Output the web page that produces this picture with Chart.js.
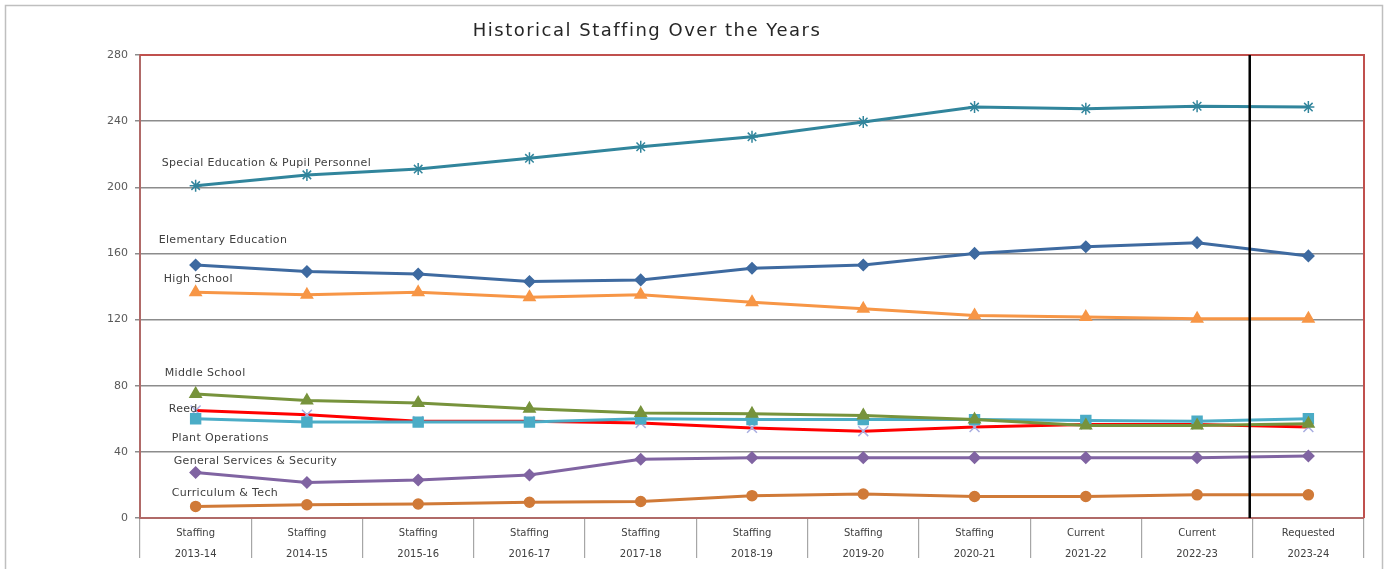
<!DOCTYPE html>
<html>
<head>
<meta charset="utf-8">
<script src="https://cdn.jsdelivr.net/npm/chart.js@4/dist/chart.umd.min.js"></script>
<style>
  html, body { margin: 0; padding: 0; background: #fff; }
  #wrap { position: relative; width: 1389px; height: 569px; }
</style>
</head>
<body>
<div id="wrap"><canvas id="staffing"></canvas></div>
<script>
const periods = [
  ['Staffing', '2013-14'], ['Staffing', '2014-15'], ['Staffing', '2015-16'],
  ['Staffing', '2016-17'], ['Staffing', '2017-18'], ['Staffing', '2018-19'],
  ['Staffing', '2019-20'], ['Staffing', '2020-21'], ['Current', '2021-22'],
  ['Current', '2022-23'], ['Requested', '2023-24']
];

const specialEd   = [201, 207.5, 211, 217.5, 224.5, 230.5, 239.5, 248.5, 247.5, 249, 248.5];
const elementary  = [153, 149, 147.5, 143, 144, 151, 153, 160, 164, 166.5, 158.5];
const highSchool  = [136.5, 135, 136.5, 133.5, 135, 130.5, 126.5, 122.5, 121.5, 120.5, 120.5];
const middle      = [75, 71, 69.5, 66, 63.5, 63, 62, 59.5, 56, 56, 57];
const reed        = [65, 62.5, 58.5, 58.5, 57.5, 54.5, 52.5, 55, 56.5, 56.5, 55];
const plantOps    = [60, 58, 58, 58, 60, 59.5, 59.5, 59.5, 59, 58.5, 60];
const genServices = [27.5, 21.5, 23, 26, 35.5, 36.5, 36.5, 36.5, 36.5, 36.5, 37.5];
const curriculum  = [7, 8, 8.5, 9.5, 10, 13.5, 14.5, 13, 13, 14, 14];

const yTicks = [0, 40, 80, 120, 160, 200, 240, 280];

// name labels sit next to each series' first point (offset in px)
const labelNudge = {
  'Special Education & Pupil Personnel': [-34, -22],
  'Elementary Education': [-37, -25],
  'High School': [-32, -13],
  'Middle School': [-31, -21],
  'Reed': [-27, -1],
  'Plant Operations': [-24, 19],
  'General Services & Security': [-22, -11],
  'Curriculum & Tech': [-24, -13]
};

const FONT = "'DejaVu Sans', sans-serif";

function series(label, data, color, style, radius, extra) {
  return Object.assign({
    label, data,
    borderColor: color, backgroundColor: color,
    pointBackgroundColor: color, pointBorderColor: color,
    pointStyle: style, pointRadius: radius, pointHoverRadius: radius,
    borderWidth: 3, pointBorderWidth: 1.5, tension: 0
  }, extra || {});
}

const chartDecor = {
  id: 'chartDecor',
  beforeDraw(chart) {
    const c = chart.ctx;
    c.save();
    c.strokeStyle = '#bfbfbf';
    c.lineWidth = 1.5;
    c.strokeRect(5.5, 5.5, 1377, 640);
    c.fillStyle = '#262626';
    c.font = '18px ' + FONT;
    c.letterSpacing = '1.5px';
    c.textAlign = 'center';
    c.textBaseline = 'middle';
    c.fillText('Historical Staffing Over the Years', 647, 31);
    c.restore();
  },
  afterDatasetsDraw(chart) {
    const c = chart.ctx;
    const a = chart.chartArea;
    const xs = chart.scales.x;
    c.save();
    // red frame top / right
    c.strokeStyle = '#c0504d';
    c.lineWidth = 2;
    c.beginPath();
    c.moveTo(a.left, a.top);
    c.lineTo(a.right, a.top);
    c.lineTo(a.right, a.bottom);
    c.stroke();
    // divider between current and requested
    const xd = (xs.getPixelForValue(9) + xs.getPixelForValue(10)) / 2 - 3;
    c.strokeStyle = '#000';
    c.lineWidth = 2.5;
    c.beginPath();
    c.moveTo(xd, a.top);
    c.lineTo(xd, a.bottom);
    c.stroke();
    // series name labels
    c.fillStyle = '#404040';
    c.font = '11px ' + FONT;
    c.letterSpacing = '0.35px';
    c.textAlign = 'left';
    c.textBaseline = 'middle';
    chart.data.datasets.forEach((ds, i) => {
      const p = chart.getDatasetMeta(i).data[0];
      const off = labelNudge[ds.label];
      c.fillText(ds.label, p.x + off[0], p.y + off[1]);
    });
    c.restore();
  }
};

new Chart(document.getElementById('staffing'), {
  type: 'line',
  data: {
    labels: periods,
    datasets: [
      series('Special Education & Pupil Personnel', specialEd, '#31859c', 'star', 6),
      series('Elementary Education', elementary, '#3e6aa0', 'rectRot', 5.5),
      series('High School', highSchool, '#f79646', 'triangle', 6.5),
      series('Middle School', middle, '#77933c', 'triangle', 6.5),
      series('Plant Operations', plantOps, '#4bacc6', 'rect', 7),
      series('Reed', reed, '#ff0000', 'crossRot', 7, { pointBorderColor: '#a9aee0' }),
      series('General Services & Security', genServices, '#8064a2', 'rectRot', 5.5),
      series('Curriculum & Tech', curriculum, '#d07a38', 'circle', 5)
    ]
  },
  options: {
    responsive: true,
    maintainAspectRatio: false,
    animation: false,
    layout: { padding: { top: 55, right: 25, left: 0, bottom: 0 } },
    plugins: { legend: { display: false }, tooltip: { enabled: false }, title: { display: false } },
    scales: {
      x: {
        offset: true,
        afterFit: s => { s.height = 51; },
        grid: { offset: true, drawOnChartArea: false, drawTicks: true, tickLength: 40, tickColor: '#a6a6a6', lineWidth: 1.2 },
        border: { color: '#b06a68', width: 2 },
        ticks: { color: '#404040', font: { family: FONT, size: 10, lineHeight: 2.1 }, padding: -35, maxRotation: 0, autoSkip: false }
      },
      y: {
        min: 0, max: 280,
        afterFit: s => { s.width = 140; },
        afterBuildTicks: s => { s.ticks = yTicks.map(v => ({ value: v })); },
        grid: { color: '#8c8c8c', lineWidth: 1.5, tickLength: 5, tickColor: '#8c8c8c' },
        border: { color: '#b06a68', width: 2 },
        ticks: { color: '#595959', font: { family: FONT, size: 11 }, padding: 7 }
      }
    }
  },
  plugins: [chartDecor]
});
</script>
</body>
</html>
